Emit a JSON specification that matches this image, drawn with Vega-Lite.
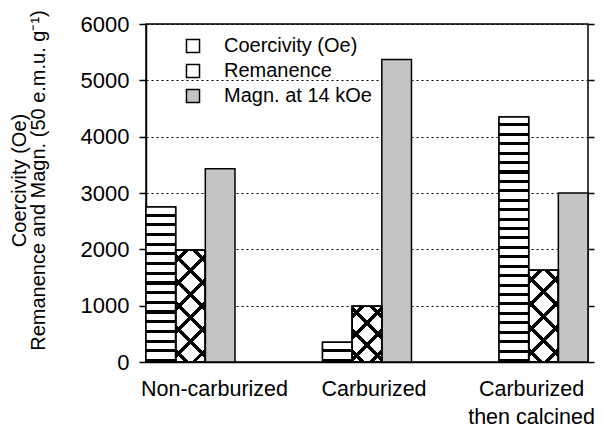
{
  "$schema": "https://vega.github.io/schema/vega-lite/v6.json",
  "width": 442,
  "height": 338,
  "autosize": {"type": "none"},
  "padding": {"left": 146, "top": 24, "right": 15, "bottom": 68},
  "background": "white",
  "config": {
    "font": "Liberation Sans",
    "view": {"stroke": "#000", "strokeWidth": 1.5}
  },
  "data": {
    "values": [
      {"category": "Non-carburized", "series": "Coercivity (Oe)", "value": 2750},
      {"category": "Non-carburized", "series": "Remanence", "value": 1990},
      {"category": "Non-carburized", "series": "Magn. at 14 kOe", "value": 3430},
      {"category": "Carburized", "series": "Coercivity (Oe)", "value": 350},
      {"category": "Carburized", "series": "Remanence", "value": 990},
      {"category": "Carburized", "series": "Magn. at 14 kOe", "value": 5370},
      {"category": "Carburized then calcined", "series": "Coercivity (Oe)", "value": 4350},
      {"category": "Carburized then calcined", "series": "Remanence", "value": 1630},
      {"category": "Carburized then calcined", "series": "Magn. at 14 kOe", "value": 3000}
    ]
  },
  "encoding": {
    "x": {
      "field": "category", "type": "nominal",
      "sort": ["Non-carburized", "Carburized", "Carburized then calcined"],
      "scale": {"paddingInner": 0.496, "paddingOuter": 0},
      "axis": {
        "title": null, "labelAngle": 0, "ticks": false,
        "domainColor": "#000", "domainWidth": 1.5,
        "labelFontSize": 21.5, "labelColor": "#000", "labelPadding": 16,
        "labelLineHeight": 28, "labelBaseline": "top",
        "labelOffset": {"condition": [{"test": "datum.value == 'Non-carburized'", "value": 24}, {"test": "datum.value == 'Carburized'", "value": 7}], "value": -12},
        "labelExpr": "datum.label == 'Carburized then calcined' ? ['Carburized', 'then calcined'] : datum.label"
      }
    },
    "xOffset": {
      "field": "series", "type": "nominal",
      "sort": ["Coercivity (Oe)", "Remanence", "Magn. at 14 kOe"],
      "scale": {"paddingInner": 0, "paddingOuter": 0}
    },
    "y": {"field": "value", "type": "quantitative", "scale": {"domain": [0, 6000], "nice": false}, "axis": null}
  },
  "resolve": {"axis": {"y": "independent"}},
  "layer": [
    {
      "mark": {"type": "bar", "stroke": "#000", "strokeWidth": 1.5},
      "encoding": {
        "fill": {
          "field": "series", "type": "nominal",
          "scale": {"domain": ["Coercivity (Oe)", "Remanence", "Magn. at 14 kOe"], "range": ["#ffffff", "#ffffff", "#c4c4c4"]},
          "legend": {
            "orient": "none", "legendX": 37, "legendY": 12, "title": null,
            "symbolType": "square", "symbolSize": 170, "symbolStrokeColor": "#000", "symbolStrokeWidth": 1.5,
            "labelFontSize": 20, "labelColor": "#000", "labelOffset": 21, "rowPadding": 5, "padding": 0,
            "encode": {"symbols": {"update": {
              "stroke": {"value": "#000"},
              "strokeWidth": {"value": 1.5},
              "opacity": {"value": 1},
              "fill": [
                {"test": "datum.value == 'Coercivity (Oe)'", "value": {"gradient": "linear", "x1": 0, "y1": 0, "x2": 0, "y2": 1, "stops": [
                  {"offset": 0, "color": "#000"}, {"offset": 0.35, "color": "#000"}, {"offset": 0.35, "color": "#fff"}, {"offset": 0.8, "color": "#fff"}, {"offset": 0.8, "color": "#000"}, {"offset": 1, "color": "#000"}]}},
                {"test": "datum.value == 'Remanence'", "value": {"gradient": "linear", "x1": 0, "y1": 0, "x2": 1, "y2": 1, "stops": [
                  {"offset": 0, "color": "#fff"}, {"offset": 0.4, "color": "#fff"}, {"offset": 0.4, "color": "#000"}, {"offset": 0.6, "color": "#000"}, {"offset": 0.6, "color": "#fff"}, {"offset": 1, "color": "#fff"}]}},
                {"value": "#c4c4c4"}
              ]
            }}}
          }
        },
        "y": {
          "field": "value", "type": "quantitative", "scale": {"domain": [0, 6000], "nice": false},
          "axis": {
            "orient": "left", "values": [0, 1000, 2000, 3000, 4000, 5000, 6000], "format": "d",
            "grid": true, "gridDash": [2, 3], "gridColor": "#000", "gridWidth": 1, "gridOpacity": 1,
            "domainColor": "#000", "domainWidth": 1.5, "tickColor": "#000", "tickSize": 7, "tickWidth": 1.5,
            "labelFontSize": 22, "labelColor": "#000", "labelPadding": 10,
            "title": ["Coercivity (Oe)", "Remanence and Magn. (50 e.m.u. g⁻¹)"],
            "titleFontSize": 20, "titleFontWeight": "normal", "titleColor": "#000", "titleLineHeight": 19, "titlePadding": 32, "titleY": 156
          }
        }
      }
    },
    {
      "transform": [{"filter": "datum.series == 'Coercivity (Oe)' && datum.category == 'Non-carburized'"}],
      "mark": {"type": "bar", "stroke": "#000", "strokeWidth": 1.5, "fill": {"gradient": "linear", "x1": 0, "y1": 0, "x2": 0, "y2": 1, "stops": [
        {"offset": 0, "color": "#fff"}, {"offset": 0.0425, "color": "#fff"}, {"offset": 0.0425, "color": "#000"}, {"offset": 0.0625, "color": "#000"},
        {"offset": 0.0625, "color": "#fff"}, {"offset": 0.105, "color": "#fff"}, {"offset": 0.105, "color": "#000"}, {"offset": 0.125, "color": "#000"},
        {"offset": 0.125, "color": "#fff"}, {"offset": 0.1675, "color": "#fff"}, {"offset": 0.1675, "color": "#000"}, {"offset": 0.1875, "color": "#000"},
        {"offset": 0.1875, "color": "#fff"}, {"offset": 0.23, "color": "#fff"}, {"offset": 0.23, "color": "#000"}, {"offset": 0.25, "color": "#000"},
        {"offset": 0.25, "color": "#fff"}, {"offset": 0.2925, "color": "#fff"}, {"offset": 0.2925, "color": "#000"}, {"offset": 0.3125, "color": "#000"},
        {"offset": 0.3125, "color": "#fff"}, {"offset": 0.355, "color": "#fff"}, {"offset": 0.355, "color": "#000"}, {"offset": 0.375, "color": "#000"},
        {"offset": 0.375, "color": "#fff"}, {"offset": 0.4175, "color": "#fff"}, {"offset": 0.4175, "color": "#000"}, {"offset": 0.4375, "color": "#000"},
        {"offset": 0.4375, "color": "#fff"}, {"offset": 0.48, "color": "#fff"}, {"offset": 0.48, "color": "#000"}, {"offset": 0.5, "color": "#000"},
        {"offset": 0.5, "color": "#fff"}, {"offset": 0.5425, "color": "#fff"}, {"offset": 0.5425, "color": "#000"}, {"offset": 0.5625, "color": "#000"},
        {"offset": 0.5625, "color": "#fff"}, {"offset": 0.605, "color": "#fff"}, {"offset": 0.605, "color": "#000"}, {"offset": 0.625, "color": "#000"},
        {"offset": 0.625, "color": "#fff"}, {"offset": 0.6675, "color": "#fff"}, {"offset": 0.6675, "color": "#000"}, {"offset": 0.6875, "color": "#000"},
        {"offset": 0.6875, "color": "#fff"}, {"offset": 0.73, "color": "#fff"}, {"offset": 0.73, "color": "#000"}, {"offset": 0.75, "color": "#000"},
        {"offset": 0.75, "color": "#fff"}, {"offset": 0.7925, "color": "#fff"}, {"offset": 0.7925, "color": "#000"}, {"offset": 0.8125, "color": "#000"},
        {"offset": 0.8125, "color": "#fff"}, {"offset": 0.855, "color": "#fff"}, {"offset": 0.855, "color": "#000"}, {"offset": 0.875, "color": "#000"},
        {"offset": 0.875, "color": "#fff"}, {"offset": 0.9175, "color": "#fff"}, {"offset": 0.9175, "color": "#000"}, {"offset": 0.9375, "color": "#000"},
        {"offset": 0.9375, "color": "#fff"}, {"offset": 0.98, "color": "#fff"}, {"offset": 0.98, "color": "#000"}, {"offset": 1, "color": "#000"}
      ]}},
      "encoding": {
        "y": {
          "field": "value", "type": "quantitative", "scale": {"domain": [0, 6000], "nice": false},
          "axis": {"orient": "right", "values": [0, 1000, 2000, 3000, 4000, 5000, 6000], "labels": false, "domain": false, "grid": false,
                   "tickColor": "#000", "tickSize": 6, "tickWidth": 1.5, "title": null}
        }
      }
    },
    {
      "transform": [{"filter": "datum.series == 'Coercivity (Oe)' && datum.category == 'Carburized'"}],
      "mark": {"type": "bar", "stroke": "#000", "strokeWidth": 1.5, "fill": {"gradient": "linear", "x1": 0, "y1": 0, "x2": 0, "y2": 1, "stops": [
        {"offset": 0, "color": "#fff"}, {"offset": 0.34, "color": "#fff"}, {"offset": 0.34, "color": "#000"}, {"offset": 0.5, "color": "#000"},
        {"offset": 0.5, "color": "#fff"}, {"offset": 0.84, "color": "#fff"}, {"offset": 0.84, "color": "#000"}, {"offset": 1, "color": "#000"}
      ]}}
    },
    {
      "transform": [{"filter": "datum.series == 'Coercivity (Oe)' && datum.category == 'Carburized then calcined'"}],
      "mark": {"type": "bar", "stroke": "#000", "strokeWidth": 1.5, "fill": {"gradient": "linear", "x1": 0, "y1": 0, "x2": 0, "y2": 1, "stops": [
        {"offset": 0, "color": "#fff"}, {"offset": 0.0262, "color": "#fff"}, {"offset": 0.0262, "color": "#000"}, {"offset": 0.0385, "color": "#000"},
        {"offset": 0.0385, "color": "#fff"}, {"offset": 0.0646, "color": "#fff"}, {"offset": 0.0646, "color": "#000"}, {"offset": 0.0769, "color": "#000"},
        {"offset": 0.0769, "color": "#fff"}, {"offset": 0.1031, "color": "#fff"}, {"offset": 0.1031, "color": "#000"}, {"offset": 0.1154, "color": "#000"},
        {"offset": 0.1154, "color": "#fff"}, {"offset": 0.1415, "color": "#fff"}, {"offset": 0.1415, "color": "#000"}, {"offset": 0.1538, "color": "#000"},
        {"offset": 0.1538, "color": "#fff"}, {"offset": 0.18, "color": "#fff"}, {"offset": 0.18, "color": "#000"}, {"offset": 0.1923, "color": "#000"},
        {"offset": 0.1923, "color": "#fff"}, {"offset": 0.2185, "color": "#fff"}, {"offset": 0.2185, "color": "#000"}, {"offset": 0.2308, "color": "#000"},
        {"offset": 0.2308, "color": "#fff"}, {"offset": 0.2569, "color": "#fff"}, {"offset": 0.2569, "color": "#000"}, {"offset": 0.2692, "color": "#000"},
        {"offset": 0.2692, "color": "#fff"}, {"offset": 0.2954, "color": "#fff"}, {"offset": 0.2954, "color": "#000"}, {"offset": 0.3077, "color": "#000"},
        {"offset": 0.3077, "color": "#fff"}, {"offset": 0.3338, "color": "#fff"}, {"offset": 0.3338, "color": "#000"}, {"offset": 0.3462, "color": "#000"},
        {"offset": 0.3462, "color": "#fff"}, {"offset": 0.3723, "color": "#fff"}, {"offset": 0.3723, "color": "#000"}, {"offset": 0.3846, "color": "#000"},
        {"offset": 0.3846, "color": "#fff"}, {"offset": 0.4108, "color": "#fff"}, {"offset": 0.4108, "color": "#000"}, {"offset": 0.4231, "color": "#000"},
        {"offset": 0.4231, "color": "#fff"}, {"offset": 0.4492, "color": "#fff"}, {"offset": 0.4492, "color": "#000"}, {"offset": 0.4615, "color": "#000"},
        {"offset": 0.4615, "color": "#fff"}, {"offset": 0.4877, "color": "#fff"}, {"offset": 0.4877, "color": "#000"}, {"offset": 0.5, "color": "#000"},
        {"offset": 0.5, "color": "#fff"}, {"offset": 0.5262, "color": "#fff"}, {"offset": 0.5262, "color": "#000"}, {"offset": 0.5385, "color": "#000"},
        {"offset": 0.5385, "color": "#fff"}, {"offset": 0.5646, "color": "#fff"}, {"offset": 0.5646, "color": "#000"}, {"offset": 0.5769, "color": "#000"},
        {"offset": 0.5769, "color": "#fff"}, {"offset": 0.6031, "color": "#fff"}, {"offset": 0.6031, "color": "#000"}, {"offset": 0.6154, "color": "#000"},
        {"offset": 0.6154, "color": "#fff"}, {"offset": 0.6415, "color": "#fff"}, {"offset": 0.6415, "color": "#000"}, {"offset": 0.6538, "color": "#000"},
        {"offset": 0.6538, "color": "#fff"}, {"offset": 0.68, "color": "#fff"}, {"offset": 0.68, "color": "#000"}, {"offset": 0.6923, "color": "#000"},
        {"offset": 0.6923, "color": "#fff"}, {"offset": 0.7185, "color": "#fff"}, {"offset": 0.7185, "color": "#000"}, {"offset": 0.7308, "color": "#000"},
        {"offset": 0.7308, "color": "#fff"}, {"offset": 0.7569, "color": "#fff"}, {"offset": 0.7569, "color": "#000"}, {"offset": 0.7692, "color": "#000"},
        {"offset": 0.7692, "color": "#fff"}, {"offset": 0.7954, "color": "#fff"}, {"offset": 0.7954, "color": "#000"}, {"offset": 0.8077, "color": "#000"},
        {"offset": 0.8077, "color": "#fff"}, {"offset": 0.8338, "color": "#fff"}, {"offset": 0.8338, "color": "#000"}, {"offset": 0.8462, "color": "#000"},
        {"offset": 0.8462, "color": "#fff"}, {"offset": 0.8723, "color": "#fff"}, {"offset": 0.8723, "color": "#000"}, {"offset": 0.8846, "color": "#000"},
        {"offset": 0.8846, "color": "#fff"}, {"offset": 0.9108, "color": "#fff"}, {"offset": 0.9108, "color": "#000"}, {"offset": 0.9231, "color": "#000"},
        {"offset": 0.9231, "color": "#fff"}, {"offset": 0.9492, "color": "#fff"}, {"offset": 0.9492, "color": "#000"}, {"offset": 0.9615, "color": "#000"},
        {"offset": 0.9615, "color": "#fff"}, {"offset": 0.9877, "color": "#fff"}, {"offset": 0.9877, "color": "#000"}, {"offset": 1, "color": "#000"}
      ]}}
    },
    {
      "transform": [{"filter": "datum.series == 'Remanence' && datum.category == 'Non-carburized'"}],
      "mark": {"type": "bar", "stroke": "#000", "strokeWidth": 1.5, "fill": {"gradient": "linear", "x1": 0, "y1": 0, "x2": 0.3127, "y2": 1.1819, "stops": [
        {"offset": 0, "color": "rgba(0,0,0,0)"}, {"offset": 0.0658, "color": "rgba(0,0,0,0)"}, {"offset": 0.0658, "color": "#000"}, {"offset": 0.1008, "color": "#000"}, {"offset": 0.1008, "color": "rgba(0,0,0,0)"},
        {"offset": 0.2325, "color": "rgba(0,0,0,0)"}, {"offset": 0.2325, "color": "#000"}, {"offset": 0.2675, "color": "#000"}, {"offset": 0.2675, "color": "rgba(0,0,0,0)"},
        {"offset": 0.3992, "color": "rgba(0,0,0,0)"}, {"offset": 0.3992, "color": "#000"}, {"offset": 0.4342, "color": "#000"}, {"offset": 0.4342, "color": "rgba(0,0,0,0)"},
        {"offset": 0.5658, "color": "rgba(0,0,0,0)"}, {"offset": 0.5658, "color": "#000"}, {"offset": 0.6008, "color": "#000"}, {"offset": 0.6008, "color": "rgba(0,0,0,0)"},
        {"offset": 0.7325, "color": "rgba(0,0,0,0)"}, {"offset": 0.7325, "color": "#000"}, {"offset": 0.7675, "color": "#000"}, {"offset": 0.7675, "color": "rgba(0,0,0,0)"},
        {"offset": 0.8992, "color": "rgba(0,0,0,0)"}, {"offset": 0.8992, "color": "#000"}, {"offset": 0.9342, "color": "#000"}, {"offset": 0.9342, "color": "rgba(0,0,0,0)"},
        {"offset": 1, "color": "rgba(0,0,0,0)"}
      ]}}
    },
    {
      "transform": [{"filter": "datum.series == 'Remanence' && datum.category == 'Non-carburized'"}],
      "mark": {"type": "bar", "stroke": "#000", "strokeWidth": 1.5, "fill": {"gradient": "linear", "x1": 1, "y1": 0, "x2": 0.6873, "y2": 1.1819, "stops": [
        {"offset": 0, "color": "rgba(0,0,0,0)"}, {"offset": 0.0658, "color": "rgba(0,0,0,0)"}, {"offset": 0.0658, "color": "#000"}, {"offset": 0.1008, "color": "#000"}, {"offset": 0.1008, "color": "rgba(0,0,0,0)"},
        {"offset": 0.2325, "color": "rgba(0,0,0,0)"}, {"offset": 0.2325, "color": "#000"}, {"offset": 0.2675, "color": "#000"}, {"offset": 0.2675, "color": "rgba(0,0,0,0)"},
        {"offset": 0.3992, "color": "rgba(0,0,0,0)"}, {"offset": 0.3992, "color": "#000"}, {"offset": 0.4342, "color": "#000"}, {"offset": 0.4342, "color": "rgba(0,0,0,0)"},
        {"offset": 0.5658, "color": "rgba(0,0,0,0)"}, {"offset": 0.5658, "color": "#000"}, {"offset": 0.6008, "color": "#000"}, {"offset": 0.6008, "color": "rgba(0,0,0,0)"},
        {"offset": 0.7325, "color": "rgba(0,0,0,0)"}, {"offset": 0.7325, "color": "#000"}, {"offset": 0.7675, "color": "#000"}, {"offset": 0.7675, "color": "rgba(0,0,0,0)"},
        {"offset": 0.8992, "color": "rgba(0,0,0,0)"}, {"offset": 0.8992, "color": "#000"}, {"offset": 0.9342, "color": "#000"}, {"offset": 0.9342, "color": "rgba(0,0,0,0)"},
        {"offset": 1, "color": "rgba(0,0,0,0)"}
      ]}}
    },
    {
      "transform": [{"filter": "datum.series == 'Remanence' && datum.category == 'Carburized'"}],
      "mark": {"type": "bar", "stroke": "#000", "strokeWidth": 1.5, "fill": {"gradient": "linear", "x1": 0, "y1": 0, "x2": 0.6348, "y2": 1.1942, "stops": [
        {"offset": 0, "color": "rgba(0,0,0,0)"}, {"offset": 0.096, "color": "rgba(0,0,0,0)"}, {"offset": 0.096, "color": "#000"}, {"offset": 0.154, "color": "#000"}, {"offset": 0.154, "color": "rgba(0,0,0,0)"},
        {"offset": 0.346, "color": "rgba(0,0,0,0)"}, {"offset": 0.346, "color": "#000"}, {"offset": 0.404, "color": "#000"}, {"offset": 0.404, "color": "rgba(0,0,0,0)"},
        {"offset": 0.596, "color": "rgba(0,0,0,0)"}, {"offset": 0.596, "color": "#000"}, {"offset": 0.654, "color": "#000"}, {"offset": 0.654, "color": "rgba(0,0,0,0)"},
        {"offset": 0.846, "color": "rgba(0,0,0,0)"}, {"offset": 0.846, "color": "#000"}, {"offset": 0.904, "color": "#000"}, {"offset": 0.904, "color": "rgba(0,0,0,0)"},
        {"offset": 1, "color": "rgba(0,0,0,0)"}
      ]}}
    },
    {
      "transform": [{"filter": "datum.series == 'Remanence' && datum.category == 'Carburized'"}],
      "mark": {"type": "bar", "stroke": "#000", "strokeWidth": 1.5, "fill": {"gradient": "linear", "x1": 1, "y1": 0, "x2": 0.3652, "y2": 1.1942, "stops": [
        {"offset": 0, "color": "rgba(0,0,0,0)"}, {"offset": 0.096, "color": "rgba(0,0,0,0)"}, {"offset": 0.096, "color": "#000"}, {"offset": 0.154, "color": "#000"}, {"offset": 0.154, "color": "rgba(0,0,0,0)"},
        {"offset": 0.346, "color": "rgba(0,0,0,0)"}, {"offset": 0.346, "color": "#000"}, {"offset": 0.404, "color": "#000"}, {"offset": 0.404, "color": "rgba(0,0,0,0)"},
        {"offset": 0.596, "color": "rgba(0,0,0,0)"}, {"offset": 0.596, "color": "#000"}, {"offset": 0.654, "color": "#000"}, {"offset": 0.654, "color": "rgba(0,0,0,0)"},
        {"offset": 0.846, "color": "rgba(0,0,0,0)"}, {"offset": 0.846, "color": "#000"}, {"offset": 0.904, "color": "#000"}, {"offset": 0.904, "color": "rgba(0,0,0,0)"},
        {"offset": 1, "color": "rgba(0,0,0,0)"}
      ]}}
    },
    {
      "transform": [{"filter": "datum.series == 'Remanence' && datum.category == 'Carburized then calcined'"}],
      "mark": {"type": "bar", "stroke": "#000", "strokeWidth": 1.5, "fill": {"gradient": "linear", "x1": 0, "y1": 0, "x2": 0.3871, "y2": 1.198, "stops": [
        {"offset": 0, "color": "rgba(0,0,0,0)"}, {"offset": 0.0795, "color": "rgba(0,0,0,0)"}, {"offset": 0.0795, "color": "#000"}, {"offset": 0.1205, "color": "#000"}, {"offset": 0.1205, "color": "rgba(0,0,0,0)"},
        {"offset": 0.2795, "color": "rgba(0,0,0,0)"}, {"offset": 0.2795, "color": "#000"}, {"offset": 0.3205, "color": "#000"}, {"offset": 0.3205, "color": "rgba(0,0,0,0)"},
        {"offset": 0.4795, "color": "rgba(0,0,0,0)"}, {"offset": 0.4795, "color": "#000"}, {"offset": 0.5205, "color": "#000"}, {"offset": 0.5205, "color": "rgba(0,0,0,0)"},
        {"offset": 0.6795, "color": "rgba(0,0,0,0)"}, {"offset": 0.6795, "color": "#000"}, {"offset": 0.7205, "color": "#000"}, {"offset": 0.7205, "color": "rgba(0,0,0,0)"},
        {"offset": 0.8795, "color": "rgba(0,0,0,0)"}, {"offset": 0.8795, "color": "#000"}, {"offset": 0.9205, "color": "#000"}, {"offset": 0.9205, "color": "rgba(0,0,0,0)"},
        {"offset": 1, "color": "rgba(0,0,0,0)"}
      ]}}
    },
    {
      "transform": [{"filter": "datum.series == 'Remanence' && datum.category == 'Carburized then calcined'"}],
      "mark": {"type": "bar", "stroke": "#000", "strokeWidth": 1.5, "fill": {"gradient": "linear", "x1": 1, "y1": 0, "x2": 0.6129, "y2": 1.198, "stops": [
        {"offset": 0, "color": "rgba(0,0,0,0)"}, {"offset": 0.0795, "color": "rgba(0,0,0,0)"}, {"offset": 0.0795, "color": "#000"}, {"offset": 0.1205, "color": "#000"}, {"offset": 0.1205, "color": "rgba(0,0,0,0)"},
        {"offset": 0.2795, "color": "rgba(0,0,0,0)"}, {"offset": 0.2795, "color": "#000"}, {"offset": 0.3205, "color": "#000"}, {"offset": 0.3205, "color": "rgba(0,0,0,0)"},
        {"offset": 0.4795, "color": "rgba(0,0,0,0)"}, {"offset": 0.4795, "color": "#000"}, {"offset": 0.5205, "color": "#000"}, {"offset": 0.5205, "color": "rgba(0,0,0,0)"},
        {"offset": 0.6795, "color": "rgba(0,0,0,0)"}, {"offset": 0.6795, "color": "#000"}, {"offset": 0.7205, "color": "#000"}, {"offset": 0.7205, "color": "rgba(0,0,0,0)"},
        {"offset": 0.8795, "color": "rgba(0,0,0,0)"}, {"offset": 0.8795, "color": "#000"}, {"offset": 0.9205, "color": "#000"}, {"offset": 0.9205, "color": "rgba(0,0,0,0)"},
        {"offset": 1, "color": "rgba(0,0,0,0)"}
      ]}}
    }
  ]
}
